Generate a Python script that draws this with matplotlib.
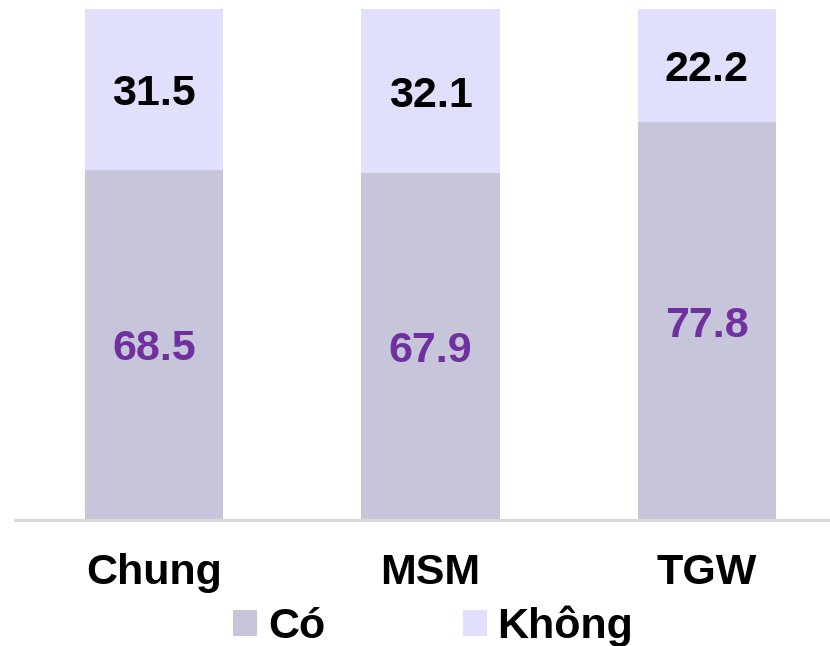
import numpy as np
import matplotlib
matplotlib.use('Agg')
import matplotlib.pyplot as plt

plt.rcParams['font.family'] = ['Liberation Sans', 'DejaVu Sans']
plt.rcParams['font.weight'] = 'bold'

# du lieu
groups = ['Chung', 'MSM', 'TGW']
co = [68.5, 67.9, 77.8]
khong = [31.5, 32.1, 22.2]
series_names = ['Có', 'Không']

col_co = '#c6c5d9'
col_khong = '#e0e0fc'
fs = 31

fig = plt.figure(figsize=(8.3, 6.46), dpi=100)
ax = fig.add_axes([15 / 830, 126 / 646, 815 / 830, 511 / 646])

x = np.arange(len(groups))
b1 = ax.bar(x, co, width=0.5, color=col_co, label=series_names[0])
b2 = ax.bar(x, khong, width=0.5, bottom=co, color=col_khong, label=series_names[1])

t1 = ax.bar_label(b1, labels=[f'{v:.1f}' for v in co], label_type='center',
                  fontsize=fs, fontweight='bold', color='#7030a0')
t2 = ax.bar_label(b2, labels=[f'{v:.1f}' for v in khong], label_type='center',
                  fontsize=fs, fontweight='bold', color='black')
for t in t1 + t2:
    t.set_verticalalignment('center_baseline')

ax.set_xlim(-0.5027, 2.445)
ax.set_ylim(0, 100)
ax.set_xticks(x)
ax.set_xticklabels(groups, fontsize=fs, fontweight='bold')
ax.tick_params(axis='x', length=0, pad=24)
ax.set_yticks([])
for s in ['top', 'right', 'left']:
    ax.spines[s].set_visible(False)
ax.spines['bottom'].set_color('#d9d9d9')
ax.spines['bottom'].set_linewidth(2.2)

fig.legend(handles=[b1, b2], labels=series_names, loc='center',
           bbox_to_anchor=(0.522, 0.03), ncol=2, frameon=False,
           prop={'size': fs, 'weight': 'bold'},
           handlelength=0.55, handleheight=0.55, handletextpad=0.25,
           columnspacing=3.2, borderpad=0, borderaxespad=0)

fig.savefig('out.png', dpi=100)
